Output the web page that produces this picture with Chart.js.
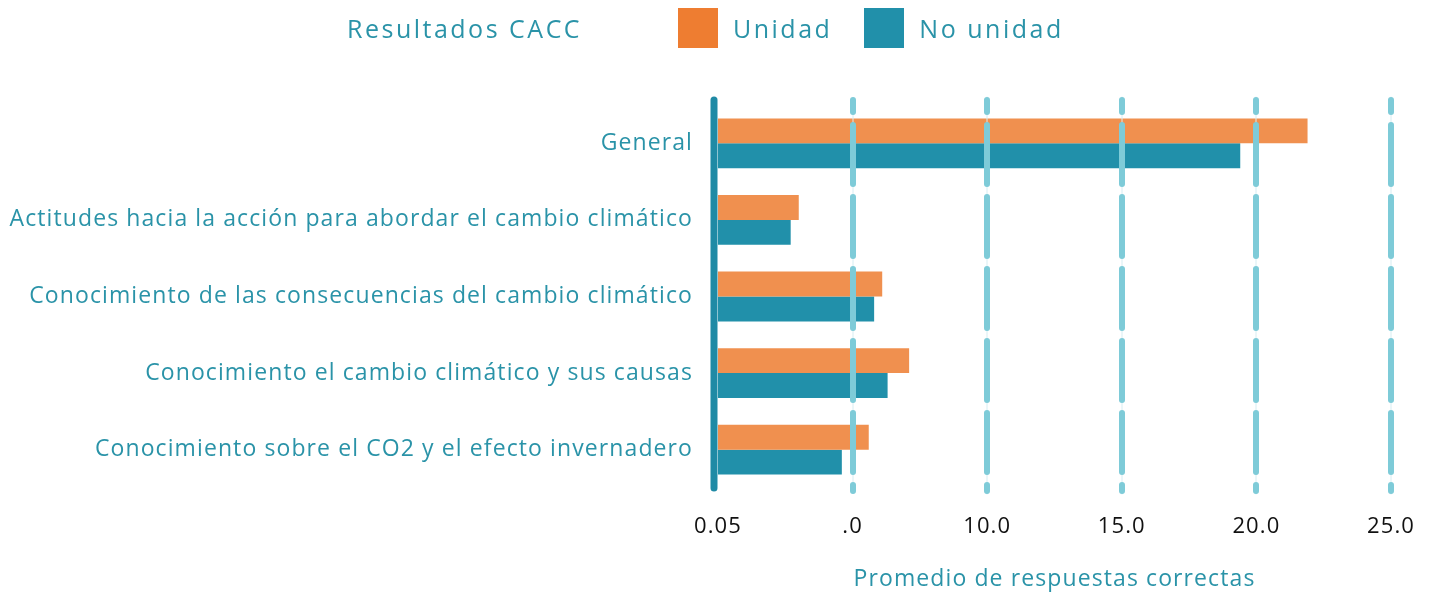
<!DOCTYPE html>
<html lang="es">
<head>
<meta charset="utf-8">
<title>Resultados CACC</title>
<script src="https://cdn.jsdelivr.net/npm/chart.js@4.4.1/dist/chart.umd.min.js"></script>
<style>
  html, body { margin: 0; padding: 0; background: #fff; }
  body { width: 1434px; height: 594px; position: relative; overflow: hidden; font-family: "Open Sans", sans-serif; }
  #wrap { position: absolute; left: 0; top: 0; width: 1434px; height: 594px; }
  .head { position: absolute; top: 8px; height: 40px; display: flex; align-items: center; color: #2a93a8; font-size: 25px; letter-spacing: 2.5px; }
  #title { left: 347px; }
  #legend { left: 678px; }
  .item { display: flex; align-items: center; margin-right: 32px; }
  .box { width: 40px; height: 40px; margin-right: 15px; }
</style>
</head>
<body>
<div id="wrap"><canvas id="chart" width="1434" height="594"></canvas></div>
<div class="head" id="title">Resultados CACC</div>
<div class="head" id="legend"></div>
<script>
const categories = [
  'General',
  'Actitudes hacia la acción para abordar el cambio climático',
  'Conocimiento de las consecuencias del cambio climático',
  'Conocimiento el cambio climático y sus causas',
  'Conocimiento sobre el CO2 y el efecto invernadero'
];
const seriesNames = ['Unidad', 'No unidad'];
const unidad = [21.9, 3.0, 6.1, 7.1, 5.6];
const noUnidad = [19.4, 2.7, 5.8, 6.3, 4.6];
const xTickLabels = ['0.05', '.0', '10.0', '15.0', '20.0', '25.0'];

const teal = '#2a93a8';

// wider tracking for all canvas text
const tracking = {
  id: 'tracking',
  beforeDraw(chart) { chart.ctx.letterSpacing = '1.1px'; }
};

// dashed vertical guides drawn over the bars, plus the thick zero line;
// both run a little past the top and bottom of the plot area
const dashedGrid = {
  id: 'dashedGrid',
  afterDatasetsDraw(chart) {
    const { ctx, chartArea: a, scales: { x } } = chart;
    const top = a.top - 8;
    const bottom = a.bottom + 6;
    ctx.save();
    x.ticks.forEach(t => {
      if (t.value === 0) return;
      const px = Math.round(x.getPixelForValue(t.value));
      ctx.setLineDash([]);
      ctx.lineWidth = 1;
      ctx.strokeStyle = '#d6edf2';
      ctx.beginPath();
      ctx.moveTo(px, top);
      ctx.lineTo(px, bottom);
      ctx.stroke();

      ctx.setLineDash([59, 13]);
      ctx.lineDashOffset = 47;
      ctx.lineWidth = 6;
      ctx.lineCap = 'round';
      ctx.strokeStyle = '#7ecbd8';
      ctx.beginPath();
      ctx.moveTo(px, top + 3);
      ctx.lineTo(px, bottom - 3);
      ctx.stroke();
    });
    const x0 = x.getPixelForValue(0) - 4;
    ctx.setLineDash([]);
    ctx.lineWidth = 7;
    ctx.lineCap = 'round';
    ctx.strokeStyle = '#1f8aa5';
    ctx.beginPath();
    ctx.moveTo(x0, top + 3);
    ctx.lineTo(x0, bottom - 6);
    ctx.stroke();
    ctx.restore();
  }
};

const chart = new Chart(document.getElementById('chart'), {
  type: 'bar',
  data: {
    labels: categories,
    datasets: [
      { label: seriesNames[0], data: unidad, backgroundColor: '#f0904f', legendColor: '#ee7d31' },
      { label: seriesNames[1], data: noUnidad, backgroundColor: '#2190aa', legendColor: '#2190aa' }
    ]
  },
  options: {
    indexAxis: 'y',
    responsive: false,
    animation: false,
    categoryPercentage: 0.65,
    barPercentage: 1,
    layout: { padding: { top: 105, right: 43, bottom: 1, left: 0 } },
    plugins: { legend: { display: false }, tooltip: { enabled: false } },
    scales: {
      x: {
        min: 0,
        max: 25,
        grid: { display: false },
        border: { display: false },
        ticks: {
          stepSize: 5,
          padding: 18,
          color: '#111',
          font: { family: 'Open Sans', size: 22 },
          callback: (v, i) => xTickLabels[i]
        },
        title: {
          display: true,
          text: 'Promedio de respuestas correctas',
          color: teal,
          font: { family: 'Open Sans', size: 23 },
          padding: { top: 7, bottom: 0 }
        }
      },
      y: {
        grid: { display: false, drawTicks: false },
        border: { display: false },
        ticks: {
          padding: 25,
          color: teal,
          font: { family: 'Open Sans', size: 23 }
        },
        afterFit(scale) { scale.width = 718; }
      }
    }
  },
  plugins: [tracking, dashedGrid]
});

// legend built from the dataset names and colours
const legend = document.getElementById('legend');
chart.data.datasets.forEach(ds => {
  const item = document.createElement('div');
  item.className = 'item';
  const box = document.createElement('span');
  box.className = 'box';
  box.style.background = ds.legendColor;
  const txt = document.createElement('span');
  txt.textContent = ds.label;
  item.appendChild(box);
  item.appendChild(txt);
  legend.appendChild(item);
});
</script>
</body>
</html>
